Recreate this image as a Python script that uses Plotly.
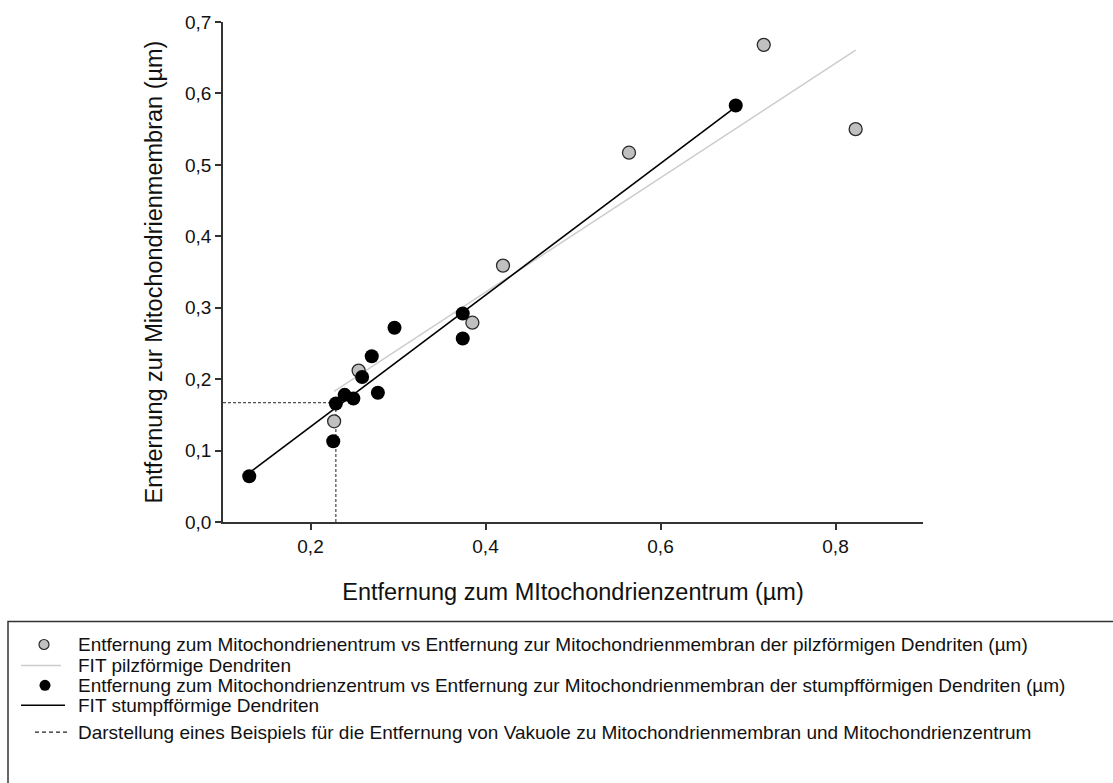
import numpy as np
import plotly.graph_objects as go

# ---------------- data ----------------
pilz_x = [0.227, 0.255, 0.385, 0.420, 0.564, 0.718, 0.823]
pilz_y = [0.141, 0.212, 0.279, 0.359, 0.517, 0.668, 0.550]

stumpf_x = [0.130, 0.229, 0.226, 0.239, 0.249, 0.259, 0.270, 0.277, 0.296, 0.374, 0.374, 0.686]
stumpf_y = [0.064, 0.166, 0.113, 0.178, 0.173, 0.203, 0.232, 0.181, 0.272, 0.292, 0.257, 0.583]

example_x = 0.229
example_y = 0.167

x_range = [0.1, 0.9]
y_range = [0.0, 0.7]
x_ticks = [0.2, 0.4, 0.6, 0.8]
y_ticks = [0.0, 0.1, 0.2, 0.3, 0.4, 0.5, 0.6, 0.7]

x_title = "Entfernung zum MItochondrienzentrum (µm)"
y_title = "Entfernung zur Mitochondrienmembran (µm)"
legend_labels = [
    "Entfernung zum Mitochondrienentrum vs Entfernung zur Mitochondrienmembran der pilzförmigen Dendriten (µm)",
    "FIT pilzförmige Dendriten",
    "Entfernung zum Mitochondrienzentrum vs Entfernung zur Mitochondrienmembran der stumpfförmigen Dendriten (µm)",
    "FIT stumpfförmige Dendriten",
    "Darstellung eines Beispiels für die Entfernung von Vakuole zu Mitochondrienmembran und Mitochondrienzentrum",
]

# ---------------- linear fits ----------------
def linfit(xs, ys):
    xs = np.asarray(xs); ys = np.asarray(ys)
    k, d = np.polyfit(xs, ys, 1)
    fx = np.array([xs.min(), xs.max()])
    return fx, k * fx + d

pilz_fx, pilz_fy = linfit(pilz_x, pilz_y)
stumpf_fx, stumpf_fy = linfit(stumpf_x, stumpf_y)

# ---------------- layout geometry ----------------
W, H = 1113, 783
L, R, T, B = 223, 190, 20, 261
PW, PH = W - L - R, H - T - B

def px2x(px):
    return (px - L) / PW

def py2y(py):
    return (H - B - py) / PH

FONT = "Liberation Sans, Arial, sans-serif"
AX = "#333333"

fig = go.Figure()

# example (dashed) lines, drawn first so markers sit on top
fig.add_trace(go.Scatter(
    x=[x_range[0], example_x, None, example_x, example_x],
    y=[example_y, example_y, None, y_range[0], example_y],
    mode="lines", line=dict(color="#222222", width=1, dash="3px,2px"),
    showlegend=False, hoverinfo="skip"))

fig.add_trace(go.Scatter(x=pilz_fx, y=pilz_fy, mode="lines",
                         line=dict(color="#cccccc", width=1.5), showlegend=False))
fig.add_trace(go.Scatter(x=stumpf_fx, y=stumpf_fy, mode="lines",
                         line=dict(color="#000000", width=1.6), showlegend=False))
fig.add_trace(go.Scatter(x=pilz_x, y=pilz_y, mode="markers",
                         marker=dict(size=13, color="#c0c0c0",
                                     line=dict(color="#2a2a2a", width=1.3)),
                         showlegend=False))
fig.add_trace(go.Scatter(x=stumpf_x, y=stumpf_y, mode="markers",
                         marker=dict(size=14, color="#000000",
                                     line=dict(color="#000000", width=0)),
                         showlegend=False))

axis_common = dict(
    showline=True, linecolor=AX, linewidth=1.8, mirror=False,
    ticks="outside", ticklen=6, tickwidth=1.5, tickcolor=AX,
    showgrid=False, zeroline=False, tickformat=".1f",
    tickfont=dict(family=FONT, size=19, color="#111111"),
)
fig.update_xaxes(range=x_range, tickvals=x_ticks, **axis_common,
                 title=dict(text=x_title, standoff=28,
                            font=dict(family=FONT, size=23.5, color="#111111")))
fig.update_yaxes(range=y_range, tickvals=y_ticks, **axis_common,
                 title=dict(text=y_title, standoff=16,
                            font=dict(family=FONT, size=23.5, color="#111111")))

# ---------------- legend box (manual, pixel-placed) ----------------
shapes = []
annotations = []
shapes.append(dict(type="rect", xref="paper", yref="paper",
                   x0=px2x(8), x1=px2x(1125), y0=py2y(622), y1=py2y(795),
                   line=dict(color="#333333", width=1.5), fillcolor="rgba(0,0,0,0)"))

rows_y = [645, 666, 686, 706, 733]
text_x = 76

def circle(cx, cy, d, fill, line_col, lw):
    return dict(type="circle", xref="paper", yref="paper",
                xsizemode="pixel", ysizemode="pixel",
                xanchor=px2x(cx), yanchor=py2y(cy),
                x0=-d / 2, x1=d / 2, y0=-d / 2, y1=d / 2,
                fillcolor=fill, line=dict(color=line_col, width=lw))

def hline(x0, x1, y, color, width, dash="solid"):
    return dict(type="line", xref="paper", yref="paper",
                x0=px2x(x0), x1=px2x(x1), y0=py2y(y), y1=py2y(y),
                line=dict(color=color, width=width, dash=dash))

shapes.append(circle(44, rows_y[0], 10, "#c0c0c0", "#2a2a2a", 1.2))
shapes.append(hline(21, 61, rows_y[1], "#cccccc", 1.5))
shapes.append(circle(45, rows_y[2], 11, "#000000", "#000000", 0))
shapes.append(hline(21, 65, rows_y[3], "#000000", 1.6))
shapes.append(hline(35, 67, rows_y[4], "#222222", 1.2, "4px,3px"))

for lab, ry in zip(legend_labels, rows_y):
    annotations.append(dict(xref="paper", yref="paper", x=px2x(text_x), y=py2y(ry),
                            xanchor="left", yanchor="middle", showarrow=False,
                            text=lab, font=dict(family=FONT, size=19, color="#111111")))

fig.update_layout(
    width=W, height=H,
    margin=dict(l=L, r=R, t=T, b=B, pad=0),
    paper_bgcolor="white", plot_bgcolor="white",
    separators=",.",
    showlegend=False,
    shapes=shapes, annotations=annotations,
)

fig.write_html("out.html")
